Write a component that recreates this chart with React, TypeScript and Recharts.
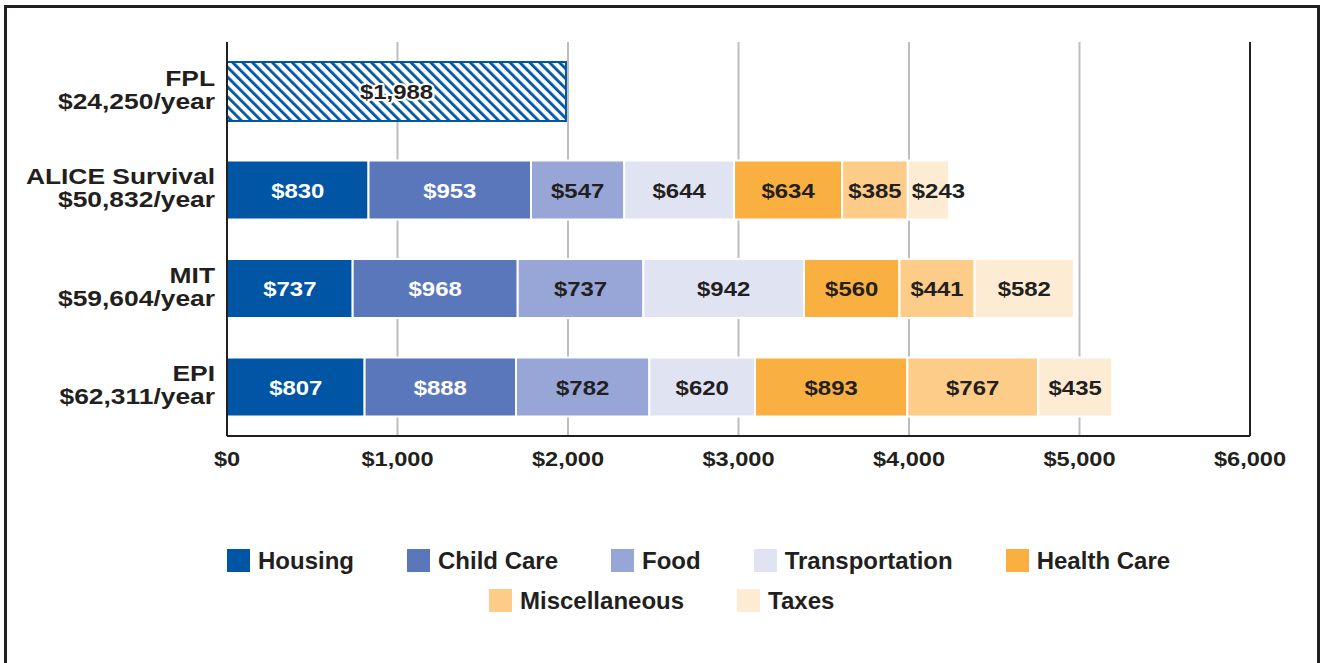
import React from "react";
import { BarChart, Bar, XAxis, YAxis, CartesianGrid, LabelList, ReferenceLine } from "recharts";

const categories = ["FPL", "ALICE Survival", "MIT", "EPI"];
const annualTotals = ["$24,250/year", "$50,832/year", "$59,604/year", "$62,311/year"];
const fplValues = [1988, 0, 0, 0];
const housing = [0, 830, 737, 807];
const childCare = [0, 953, 968, 888];
const food = [0, 547, 737, 782];
const transportation = [0, 644, 942, 620];
const healthCare = [0, 634, 560, 893];
const miscellaneous = [0, 385, 441, 767];
const taxes = [0, 243, 582, 435];
const xTicks = [0, 1000, 2000, 3000, 4000, 5000, 6000];

const series = [
  { key: "housing", name: "Housing", values: housing, color: "#0055A5", text: "#FFFFFF" },
  { key: "childCare", name: "Child Care", values: childCare, color: "#5A77BB", text: "#FFFFFF" },
  { key: "food", name: "Food", values: food, color: "#97A6D6", text: "#231F20" },
  { key: "transportation", name: "Transportation", values: transportation, color: "#E0E3F2", text: "#231F20" },
  { key: "healthCare", name: "Health Care", values: healthCare, color: "#F9B040", text: "#231F20" },
  { key: "miscellaneous", name: "Miscellaneous", values: miscellaneous, color: "#FCCC88", text: "#231F20" },
  { key: "taxes", name: "Taxes", values: taxes, color: "#FDEBD4", text: "#231F20" },
];

const data = categories.map((c, i) => {
  const row: any = { name: c, total: annualTotals[i], fpl: fplValues[i] || null };
  series.forEach((s) => {
    row[s.key] = s.values[i] || null;
  });
  return row;
});

const FONT = "'Liberation Sans', Arial, Helvetica, sans-serif";
const DARK = "#231F20";

const fmt = (v: number) => "$" + v.toLocaleString("en-US");

const YTick = (props: any) => {
  const { x, y, payload } = props;
  const row = data.find((d) => d.name === payload.value);
  return (
    <g transform={`translate(${x - 4},${y}) scale(1.2,1)`}>
      <text x={0} y={-5.5} textAnchor="end" fontFamily={FONT} fontWeight="bold" fontSize={22} fill={DARK}>
        {payload.value}
      </text>
      <text x={0} y={17.5} textAnchor="end" fontFamily={FONT} fontWeight="bold" fontSize={22} fill={DARK}>
        {row ? row.total : ""}
      </text>
    </g>
  );
};

const XTick = (props: any) => {
  const { x, y, payload } = props;
  return (
    <g transform={`translate(${x},${y + 24}) scale(1.18,1)`}>
      <text x={0} y={0} textAnchor="middle" fontFamily={FONT} fontWeight="bold" fontSize={20} fill={DARK}>
        {fmt(payload.value)}
      </text>
    </g>
  );
};

const makeLabel = (color: string, halo: boolean) => (props: any) => {
  const { x, y, width, height, value } = props;
  if (!value) return null;
  const text = fmt(value);
  const estWidth = text.length * 21 * 0.556 * 1.14;
  const narrow = estWidth > width;
  const tx = narrow ? x + 4 : x + width / 2;
  return (
    <g transform={`translate(${tx},${y + height / 2 + 7.5}) scale(1.14,1)`}>
      <text
        x={0}
        y={0}
        textAnchor={narrow ? "start" : "middle"}
        fontFamily={FONT}
        fontWeight="bold"
        fontSize={21}
        fill={color}
        stroke={halo ? "#FFFFFF" : "none"}
        strokeWidth={halo ? 4 : 0}
        strokeLinejoin="round"
        paintOrder="stroke"
      >
        {text}
      </text>
    </g>
  );
};

const legendRows = [
  { left: 227, top: 549, items: series.slice(0, 5) },
  { left: 489, top: 589, items: series.slice(5) },
];

export default function App() {
  return (
    <>
      <style>{`html, body { margin: 0; padding: 0; background: #ffffff; }`}</style>
      <div style={{ position: "relative", width: 1325, height: 663, overflow: "hidden" }}>
        <div style={{ position: "absolute", left: 0, top: 0 }}>
          <BarChart
            width={1325}
            height={663}
            data={data}
            layout="vertical"
            margin={{ top: 42, right: 75, left: 0, bottom: 197 }}
            barSize={57}
          >
            <defs>
              <pattern id="hatch" width="7" height="7" patternUnits="userSpaceOnUse" patternTransform="rotate(-45)">
                <rect width="7" height="7" fill="#FFFFFF" />
                <rect x="0" y="0" width="2.8" height="7" fill="#0055A5" />
              </pattern>
            </defs>
            <CartesianGrid horizontal={false} stroke="#BDBDBD" strokeWidth={2} />
            <XAxis
              type="number"
              domain={[0, 6000]}
              ticks={xTicks}
              axisLine={{ stroke: DARK, strokeWidth: 2 }}
              tickLine={false}
              tickMargin={0}
              height={30}
              tick={<XTick />}
            />
            <YAxis
              type="category"
              dataKey="name"
              width={227}
              axisLine={{ stroke: DARK, strokeWidth: 2 }}
              tickLine={false}
              tick={<YTick />}
            />
            <ReferenceLine x={6000} stroke={DARK} strokeWidth={2} />
            <Bar dataKey="fpl" stackId="a" fill="url(#hatch)" stroke="#0055A5" strokeWidth={2} isAnimationActive={false} barSize={59}>
              <LabelList dataKey="fpl" content={makeLabel(DARK, true)} />
            </Bar>
            {series.map((s) => (
              <Bar
                key={s.key}
                dataKey={s.key}
                name={s.name}
                stackId="a"
                fill={s.color}
                stroke="#FFFFFF"
                strokeWidth={2}
                isAnimationActive={false}
              >
                <LabelList dataKey={s.key} content={makeLabel(s.text, false)} />
              </Bar>
            ))}
          </BarChart>
        </div>
        {legendRows.map((row, ri) => (
          <div
            key={ri}
            style={{
              position: "absolute",
              left: row.left,
              top: row.top,
              display: "flex",
              columnGap: 53,
              fontFamily: FONT,
              fontWeight: "bold",
              fontSize: 24,
              color: DARK,
              whiteSpace: "nowrap",
            }}
          >
            {row.items.map((s) => (
              <div key={s.key} style={{ display: "flex", alignItems: "center", height: 23, lineHeight: "23px" }}>
                <div style={{ width: 23, height: 23, background: s.color, marginRight: 8 }} />
                <span>{s.name}</span>
              </div>
            ))}
          </div>
        ))}
        <div
          style={{
            position: "absolute",
            left: 4,
            top: 5,
            width: 1316,
            height: 700,
            border: `3px solid ${DARK}`,
            boxSizing: "border-box",
            pointerEvents: "none",
          }}
        />
      </div>
    </>
  );
}
